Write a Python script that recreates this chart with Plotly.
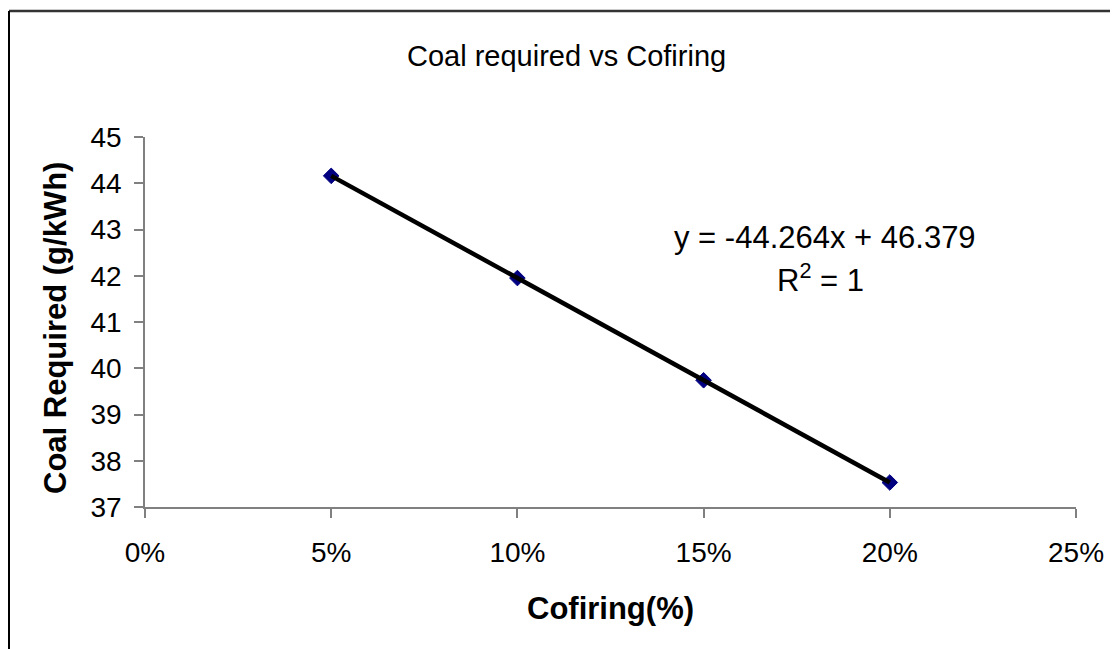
import plotly.graph_objects as go

# Data
cofiring = [0.05, 0.10, 0.15, 0.20]
coal_required = [44.16, 41.95, 39.74, 37.53]
x_ticks = [0, 0.05, 0.10, 0.15, 0.20, 0.25]
x_tick_labels = ["0%", "5%", "10%", "15%", "20%", "25%"]
y_ticks = [37, 38, 39, 40, 41, 42, 43, 44, 45]
equation_text = "y = -44.264x + 46.379"
r2_text = "R<sup>2</sup> = 1"
title_text = "Coal required vs Cofiring"
x_title = "Cofiring(%)"
y_title = "Coal Required (g/kWh)"

FONT = "Liberation Sans, Arial, sans-serif"

OFF = 8  # page body margin offset
W, H = 1118 - OFF, 649 - OFF
L, T = 145 - OFF, 137 - OFF
pw, ph = 931, 370
R, B = W - L - pw, H - T - ph


def px(x):
    return (x - OFF - L) / pw


def py(y):
    return (T + ph - (y - OFF)) / ph


fig = go.Figure()

fig.add_trace(go.Scatter(
    x=cofiring, y=coal_required, mode="markers",
    marker=dict(symbol="diamond", size=12, color="#000080",
                line=dict(color="#000080", width=1)),
    showlegend=False, hoverinfo="x+y",
))
# Trendline (linear, R^2 = 1, passes through the data points)
fig.add_trace(go.Scatter(
    x=cofiring, y=coal_required, mode="lines",
    line=dict(color="black", width=4.5),
    showlegend=False, hoverinfo="skip",
))

fig.update_layout(
    width=W, height=H,
    margin=dict(l=L, r=R, t=T, b=B),
    paper_bgcolor="white", plot_bgcolor="white",
    font=dict(family=FONT, size=28, color="black"),
    xaxis=dict(
        range=[0, 0.25], tickvals=x_ticks, ticktext=x_tick_labels,
        showgrid=False, zeroline=False, showline=True,
        linecolor="#808080", linewidth=1.5,
        ticks="outside", ticklen=9, tickcolor="#808080", tickwidth=1.5,
        tickfont=dict(size=28), ticklabelstandoff=11,
    ),
    yaxis=dict(
        range=[37, 45], tickvals=y_ticks,
        showgrid=False, zeroline=False, showline=True,
        linecolor="#808080", linewidth=1.5,
        ticks="outside", ticklen=9, tickcolor="#808080", tickwidth=1.5,
        tickfont=dict(size=28), ticklabelstandoff=7,
    ),
    annotations=[
        dict(text=title_text, x=px(566), y=py(56), xref="paper", yref="paper",
             showarrow=False, xanchor="center", yanchor="middle",
             font=dict(size=29)),
        dict(text="<b>" + x_title + "</b>", x=px(610), y=py(608),
             xref="paper", yref="paper", showarrow=False,
             xanchor="center", yanchor="middle", font=dict(size=31)),
        dict(text="<b>" + y_title + "</b>", x=px(55), y=py(328),
             xref="paper", yref="paper", showarrow=False, textangle=-90,
             xanchor="center", yanchor="middle", font=dict(size=31)),
        dict(text=equation_text, x=px(825), y=py(237),
             xref="paper", yref="paper", showarrow=False,
             xanchor="center", yanchor="middle", font=dict(size=31)),
        dict(text=r2_text, x=px(820), y=py(278),
             xref="paper", yref="paper", showarrow=False,
             xanchor="center", yanchor="middle", font=dict(size=31)),
    ],
    shapes=[
        dict(type="line", xref="paper", yref="paper",
             x0=px(9), x1=px(1140), y0=py(11), y1=py(11),
             line=dict(color="#333333", width=2.5)),
        dict(type="line", xref="paper", yref="paper",
             x0=px(9), x1=px(9), y0=py(11), y1=py(670),
             line=dict(color="black", width=2)),
    ],
)

fig.write_html("out.html")
